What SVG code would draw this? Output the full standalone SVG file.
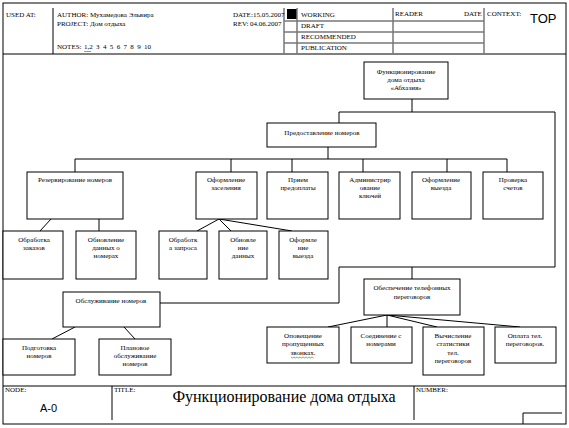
<svg xmlns="http://www.w3.org/2000/svg" width="569" height="428" viewBox="0 0 569 428">
<style>
.b{fill:#fff;stroke:#000;stroke-width:1}
.l{fill:none;stroke:#000;stroke-width:1}
.g{fill:none;stroke:#777;stroke-width:1.5}
.t{font-family:"Liberation Serif","Times New Roman",serif;font-size:7px;fill:#000;text-anchor:middle}
.h{font-family:"Liberation Serif","Times New Roman",serif;font-size:7px;fill:#000}
.w{fill:none;stroke:#2a9a2a;stroke-width:0.7}
</style>
<rect width="569" height="428" fill="#fff"/>
<g id="frame">
<rect x="3" y="3" width="563" height="421" class="l"/>
<line x1="3" y1="54" x2="566" y2="54" class="l"/>
<line x1="53" y1="8" x2="53" y2="54" class="l"/>
<rect x="287" y="9" width="10" height="10" fill="#000"/>
<line x1="284" y1="8" x2="284" y2="54" class="g"/>
<line x1="297" y1="8" x2="297" y2="54" class="g"/>
<line x1="393" y1="8" x2="393" y2="54" class="g"/>
<line x1="484" y1="8" x2="484" y2="54" class="g"/>
<line x1="284" y1="21" x2="484" y2="21" class="g"/>
<line x1="284" y1="32" x2="484" y2="32" class="g"/>
<line x1="284" y1="43" x2="484" y2="43" class="g"/>
<text class="h" x="6" y="17">USED AT:</text>
<text class="h" x="57" y="17">AUTHOR:</text>
<text class="h" x="90" y="17">Мухамедова Эльвира</text>
<text class="h" x="57" y="26">PROJECT:</text>
<text class="h" x="90" y="26">Дом отдыха</text>
<text class="h" x="57" y="49">NOTES:</text>
<text class="h" x="84" y="49" word-spacing="1.6">1,2 3 4 5 6 7 8 9 10</text>
<path class="w" d="M84,51 l1,1 l1,-1 l1,1 l1,-1 l1,1 l1,-1 l1,1"/>
<text class="h" x="233" y="17">DATE:</text>
<text class="h" x="253" y="17" font-size="6">15.05.2007</text>
<text class="h" x="233" y="26">REV:</text>
<text class="h" x="250" y="26" font-size="6">04.06.2007</text>
<text class="h" x="301" y="17">WORKING</text>
<text class="h" x="301" y="28">DRAFT</text>
<text class="h" x="301" y="39">RECOMMENDED</text>
<text class="h" x="301" y="50">PUBLICATION</text>
<text class="h" x="395" y="16">READER</text>
<text class="h" x="464" y="16">DATE</text>
<text class="h" x="487" y="16">CONTEXT:</text>
<text x="530" y="23" font-family="Liberation Sans, Arial, sans-serif" font-size="13">TOP</text>
<line x1="3" y1="386" x2="566" y2="386" class="l"/>
<line x1="112" y1="386" x2="112" y2="420" class="l"/>
<line x1="414" y1="386" x2="414" y2="420" class="l"/>
<path class="l" d="M523,424 V413 H562"/>
<text class="h" x="5" y="392" font-size="6">NODE:</text>
<text class="h" x="114" y="392" font-size="6">TITLE:</text>
<text class="h" x="416" y="392" font-size="6">NUMBER:</text>
<text x="40" y="412" font-family="Liberation Sans, Arial, sans-serif" font-size="11">A-0</text>
<text x="284" y="402" font-family="Liberation Serif, Times New Roman, serif" font-size="16" text-anchor="middle">Функционирование дома отдыха</text>
</g>
<g id="connectors">
<path class="l" d="M412,99 V112 M339,123 V112 H555 V267 H339 V303 H160 M412,267 V279"/>
<path class="l" d="M328,147 V159 M75,159 H507 M75,159 V172 M231,159 V172 M292,159 V172 M363,159 V172 M447,159 V172 M507,159 V172"/>
<path class="l" d="M51,219 L40,231 M99,219 V231"/>
<path class="l" d="M219,219 L197,231 M219,219 L231,231 M219,219 L292,231"/>
<path class="l" d="M75,327 L52,339 M124,327 L135,339"/>
<path class="l" d="M387,315 L328,327 M387,315 V327 M387,315 L437,327 M387,315 L520,327"/>
</g>
<g id="n-top"><rect class="b" x="364" y="62" width="84" height="37"/>
<text class="t" x="406" y="74">Функционирование</text><text class="t" x="406" y="82">дома отдыха</text><text class="t" x="406" y="90">«Абхазия»</text></g>
<g id="n-predost"><rect class="b" x="267" y="123" width="109" height="24"/>
<text class="t" x="322" y="135">Предоставление номеров</text></g>
<g id="n-rezerv"><rect class="b" x="27" y="172" width="96" height="47"/>
<text class="t" x="75" y="182">Резервирование номеров</text></g>
<g id="n-oform-zas"><rect class="b" x="196" y="172" width="61" height="47"/>
<text class="t" x="226" y="182">Оформление</text><text class="t" x="226" y="190">заселения</text></g>
<g id="n-priem"><rect class="b" x="267" y="172" width="61" height="47"/>
<text class="t" x="298" y="182">Прием</text><text class="t" x="298" y="190">предоплаты</text></g>
<g id="n-admin"><rect class="b" x="339" y="172" width="61" height="47"/>
<text class="t" x="370" y="182">Администрир</text><text class="t" x="370" y="190">ование</text><text class="t" x="370" y="198">ключей</text></g>
<g id="n-oform-vyezd"><rect class="b" x="412" y="172" width="59" height="47"/>
<text class="t" x="441" y="182">Оформление</text><text class="t" x="441" y="190">выезда</text></g>
<g id="n-proverka"><rect class="b" x="483" y="172" width="60" height="47"/>
<text class="t" x="513" y="182">Проверка</text><text class="t" x="513" y="190">счетов</text></g>
<g id="n-obr-zak"><rect class="b" x="3" y="231" width="60" height="48"/>
<text class="t" x="34" y="242">Обработка</text><text class="t" x="34" y="250">заказов</text></g>
<g id="n-obnov-nom"><rect class="b" x="76" y="231" width="60" height="48"/>
<text class="t" x="106" y="242">Обновление</text><text class="t" x="106" y="250">данных о</text><text class="t" x="106" y="258">номерах</text></g>
<g id="n-obr-zapr"><rect class="b" x="159" y="231" width="48" height="48"/>
<text class="t" x="183" y="242">Обработк</text><text class="t" x="183" y="250">а запроса</text></g>
<g id="n-obnov-dan"><rect class="b" x="219" y="231" width="48" height="48"/>
<text class="t" x="243" y="242">Обновле</text><text class="t" x="243" y="250">ние</text><text class="t" x="243" y="258">данных</text></g>
<g id="n-oform-vyezd2"><rect class="b" x="279" y="231" width="49" height="48"/>
<text class="t" x="303" y="242">Оформле</text><text class="t" x="303" y="250">ние</text><text class="t" x="303" y="258">выезда</text></g>
<g id="n-obsluzh"><rect class="b" x="63" y="292" width="97" height="35"/>
<text class="t" x="111" y="303">Обслуживание номеров</text></g>
<g id="n-podgot"><rect class="b" x="3" y="339" width="72" height="36"/>
<text class="t" x="39" y="350">Подготовка</text><text class="t" x="39" y="358">номеров</text></g>
<g id="n-planov"><rect class="b" x="99" y="339" width="72" height="36"/>
<text class="t" x="135" y="350">Плановое</text><text class="t" x="135" y="358">обслуживание</text><text class="t" x="135" y="366">номеров</text></g>
<g id="n-obespech"><rect class="b" x="364" y="279" width="96" height="36"/>
<text class="t" x="412" y="290">Обеспечение телефонных</text><text class="t" x="412" y="299">переговоров</text></g>
<g id="n-opoves"><rect class="b" x="267" y="327" width="72" height="36"/>
<text class="t" x="303" y="338">Оповещение</text><text class="t" x="303" y="346">пропущенных</text><text class="t" x="303" y="355">звонках.</text>
<path class="w" d="M291,357 l1.5,1 l1.5,-1 l1.5,1 l1.5,-1 l1.5,1 l1.5,-1 l1.5,1 l1.5,-1 l1.5,1 l1.5,-1 l1.5,1 l1.5,-1 l1.5,1 l1.5,-1 l1.5,1"/></g>
<g id="n-soedin"><rect class="b" x="351" y="327" width="61" height="36"/>
<text class="t" x="381" y="338">Соединение с</text><text class="t" x="381" y="346">номерами</text></g>
<g id="n-vychisl"><rect class="b" x="423" y="327" width="61" height="48"/>
<text class="t" x="453" y="338">Вычисление</text><text class="t" x="453" y="346">статистики</text><text class="t" x="453" y="355">тел.</text><text class="t" x="453" y="363">переговоров</text></g>
<g id="n-oplata"><rect class="b" x="495" y="327" width="61" height="36"/>
<text class="t" x="525" y="338">Оплата тел.</text><text class="t" x="525" y="346">переговоров.</text></g>
</svg>
